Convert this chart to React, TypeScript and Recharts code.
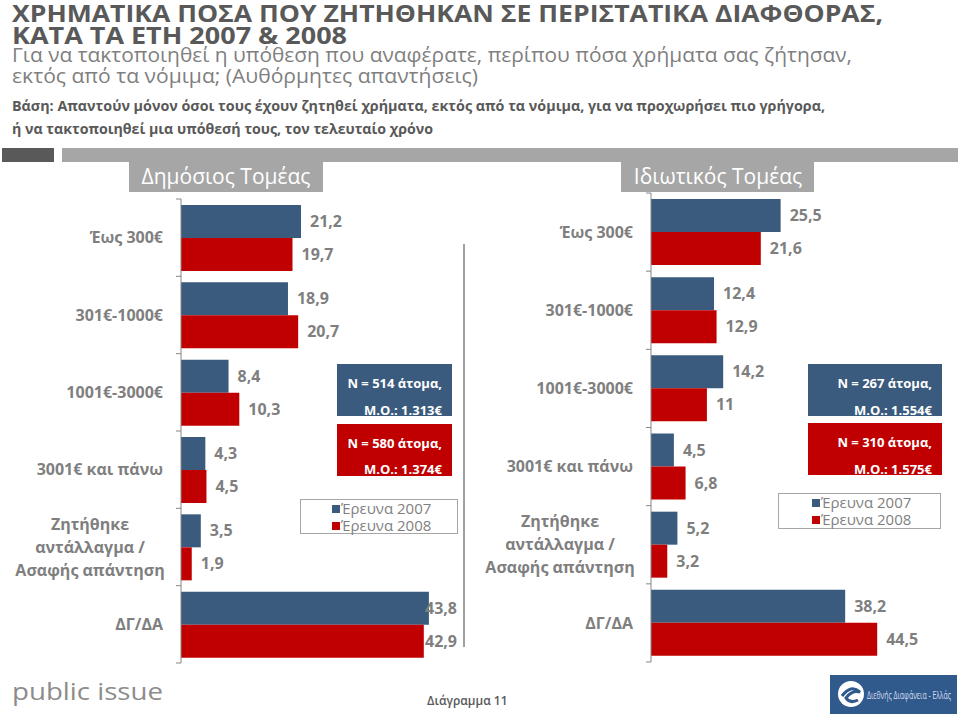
import { BarChart, Bar, XAxis, YAxis, LabelList, Legend } from "recharts"

const categories = [
  "Έως 300€",
  "301€-1000€",
  "1001€-3000€",
  "3001€ και πάνω",
  "Ζητήθηκε\nαντάλλαγμα /\nΑσαφής απάντηση",
  "ΔΓ/ΔΑ",
]
const public2007 = [21.2, 18.9, 8.4, 4.3, 3.5, 43.8]
const public2008 = [19.7, 20.7, 10.3, 4.5, 1.9, 42.9]
const private2007 = [25.5, 12.4, 14.2, 4.5, 5.2, 38.2]
const private2008 = [21.6, 12.9, 11, 6.8, 3.2, 44.5]
const seriesNames = ["Έρευνα 2007", "Έρευνα 2008"]

const BLUE = "#3a5b7e"
const RED = "#c00000"
const GRAY = "#7f7f7f"
const FONT = "'Open Sans', 'Noto Sans', sans-serif"

const fmt = (v: number) => String(v).replace(".", ",")

function CategoryTick(props: any) {
  const { x, y, payload, index } = props
  const half = payload?.offset || 38.6
  const lines = String(payload.value).split("\n")
  return (
    <g>
      <line x1={x - 5} x2={x} y1={y - half} y2={y - half} stroke="#868686" />
      {index === categories.length - 1 && (
        <line x1={x - 5} x2={x} y1={y + half} y2={y + half} stroke="#868686" />
      )}
      {lines.length === 1 ? (
        <text x={x - 18} y={y} dy="0.35em" textAnchor="end" fill={GRAY} fontSize={16} fontWeight={700} fontFamily={FONT}>
          {lines[0]}
        </text>
      ) : (
        <text textAnchor="middle" fill={GRAY} fontSize={16} fontWeight={700} fontFamily={FONT}>
          {lines.map((l, i) => (
            <tspan key={i} x={x - 91} y={y + (i - 1) * 23} dy="0.35em">
              {l}
            </tspan>
          ))}
        </text>
      )}
    </g>
  )
}

const makeValueLabel = (maxX: number) => (props: any) => {
  const { x, y, width, height, value } = props
  const lx = Math.min(x + width + 9, maxX)
  return (
    <text x={lx} y={y + height / 2} dy="0.35em" fill={GRAY} fontSize={16} fontWeight={700} fontFamily={FONT}>
      {fmt(value)}
    </text>
  )
}

function makeLegend(padLeft: number, padTop: number, rowH: number) {
  return (props: any) => {
    const items = props.payload || []
    return (
      <div
        style={{
          width: "100%",
          height: "100%",
          boxSizing: "border-box",
          border: "1px solid #a6a6a6",
          background: "#fff",
          paddingLeft: padLeft,
          paddingTop: padTop,
          fontFamily: FONT,
        }}
      >
        {items.map((it: any) => (
          <div key={it.value} style={{ display: "flex", alignItems: "center", height: rowH, fontSize: 15, color: GRAY, lineHeight: rowH + "px" }}>
            <span style={{ display: "inline-block", width: 8, height: 8, background: it.color, marginRight: 1 }} />
            {it.value}
          </div>
        ))}
      </div>
    )
  }
}

interface SectorProps {
  s2007: number[]
  s2008: number[]
  left: number
  width: number
  top: number
  bottom: number
  axisWidth: number
  right: number
  xMax: number
  labelMaxX: number
  legendPos: { left: number; top: number; width: number; height: number }
  legendPad: [number, number, number]
}

function SectorChart(p: SectorProps) {
  const data = categories.map((c, i) => ({ name: c, y2007: p.s2007[i], y2008: p.s2008[i] }))
  return (
    <div style={{ position: "absolute", left: p.left, top: 0 }}>
      <BarChart
        width={p.width}
        height={716}
        data={data}
        layout="vertical"
        margin={{ top: p.top, bottom: p.bottom, left: 0, right: p.right }}
        barCategoryGap={6}
        barGap={0}
      >
        <XAxis type="number" domain={[0, p.xMax]} hide />
        <YAxis
          type="category"
          dataKey="name"
          width={p.axisWidth}
          axisLine={{ stroke: "#868686" }}
          tickLine={false}
          tickSize={0}
          tickMargin={0}
          interval={0}
          tick={<CategoryTick />}
        />
        <Legend
          layout="horizontal"
          verticalAlign="middle"
          align="center"
          wrapperStyle={{ ...p.legendPos, position: "absolute" }}
          content={makeLegend(p.legendPad[0], p.legendPad[1], p.legendPad[2])}
        />
        <Bar dataKey="y2007" name={seriesNames[0]} fill={BLUE} isAnimationActive={false}>
          <LabelList dataKey="y2007" content={makeValueLabel(p.labelMaxX)} />
        </Bar>
        <Bar dataKey="y2008" name={seriesNames[1]} fill={RED} isAnimationActive={false}>
          <LabelList dataKey="y2008" content={makeValueLabel(p.labelMaxX)} />
        </Bar>
      </BarChart>
    </div>
  )
}

function NBox(props: { x: number; y: number; w: number; fill: string; l1: string; l2: string; right: number; b1: number; b2: number }) {
  return (
    <g>
      <rect x={props.x} y={props.y} width={props.w} height={52} fill={props.fill} />
      <text x={props.right} y={props.b1} textAnchor="end" fill="#fff" fontSize={13} fontWeight={700}>
        {props.l1}
      </text>
      <text x={props.right} y={props.b2} textAnchor="end" fill="#fff" fontSize={13} fontWeight={700}>
        {props.l2}
      </text>
    </g>
  )
}

export default function App() {
  return (
    <div style={{ position: "absolute", left: 0, top: 0, width: 960, height: 716, background: "#fff", overflow: "hidden", fontFamily: FONT }}>
      <SectorChart
        s2007={public2007}
        s2008={public2008}
        left={0}
        width={470}
        top={199}
        bottom={53}
        axisWidth={181}
        right={6}
        xMax={50}
        labelMaxX={425}
        legendPos={{ left: 300, top: 499, width: 158, height: 35 }}
        legendPad={[31, 0, 17]}
      />
      <SectorChart
        s2007={private2007}
        s2008={private2008}
        left={480}
        width={480}
        top={193}
        bottom={54}
        axisWidth={171}
        right={4}
        xMax={60}
        labelMaxX={2000}
        legendPos={{ left: 298, top: 493, width: 163, height: 36 }}
        legendPad={[33, 0, 17]}
      />
      <svg width={960} height={716} style={{ position: "absolute", left: 0, top: 0, pointerEvents: "none" }} fontFamily={FONT}>
        <text x={12} y={22} fill="#595959" fontSize={23} fontWeight={700} textLength={871} lengthAdjust="spacingAndGlyphs">
          ΧΡΗΜΑΤΙΚΑ ΠΟΣΑ ΠΟΥ ΖΗΤΗΘΗΚΑΝ ΣΕ ΠΕΡΙΣΤΑΤΙΚΑ ΔΙΑΦΘΟΡΑΣ,
        </text>
        <text x={12} y={44} fill="#595959" fontSize={23} fontWeight={700} textLength={335} lengthAdjust="spacingAndGlyphs">
          ΚΑΤΑ ΤΑ ΕΤΗ 2007 &amp; 2008
        </text>
        <text x={12} y={62} fill={GRAY} fontSize={20} textLength={840} lengthAdjust="spacingAndGlyphs">
          Για να τακτοποιηθεί η υπόθεση που αναφέρατε, περίπου πόσα χρήματα σας ζήτησαν,
        </text>
        <text x={12} y={83} fill={GRAY} fontSize={20} textLength={466} lengthAdjust="spacingAndGlyphs">
          εκτός από τα νόμιμα; (Αυθόρμητες απαντήσεις)
        </text>
        <text x={12} y={111} fill="#595959" fontSize={14} fontWeight={700} textLength={813} lengthAdjust="spacingAndGlyphs">
          Βάση: Απαντούν μόνον όσοι τους έχουν ζητηθεί χρήματα, εκτός από τα νόμιμα, για να προχωρήσει πιο γρήγορα,
        </text>
        <text x={12} y={134} fill="#595959" fontSize={14} fontWeight={700} textLength={421} lengthAdjust="spacingAndGlyphs">
          ή να τακτοποιηθεί μια υπόθεσή τους, τον τελευταίο χρόνο
        </text>

        <rect x={2} y={148} width={52} height={14} fill="#595959" />
        <rect x={62} y={148} width={896} height={14} fill="#a6a6a6" />
        <rect x={129} y={161} width={194} height={31} fill="#a6a6a6" />
        <rect x={621} y={161} width={193} height={31} fill="#a6a6a6" />
        <text x={226} y={177} dy="0.35em" textAnchor="middle" fill="#fff" fontSize={21}>
          Δημόσιος Τομέας
        </text>
        <text x={718} y={177} dy="0.35em" textAnchor="middle" fill="#fff" fontSize={21}>
          Ιδιωτικός Τομέας
        </text>

        <line x1={464} x2={464} y1={244} y2={647} stroke="#a0a0a0" strokeWidth={2} />

        <NBox x={337} y={364} w={115} fill={BLUE} right={442} b1={388} b2={415} l1="N = 514 άτομα," l2="Μ.Ο.: 1.313€" />
        <NBox x={337} y={424} w={115} fill={RED} right={442} b1={448} b2={474} l1="N = 580 άτομα," l2="Μ.Ο.: 1.374€" />
        <NBox x={808} y={364} w={134} fill={BLUE} right={932} b1={388} b2={415} l1="N = 267 άτομα," l2="Μ.Ο.: 1.554€" />
        <NBox x={808} y={423} w={134} fill={RED} right={932} b1={447} b2={474} l1="N = 310 άτομα," l2="Μ.Ο.: 1.575€" />

        <text x={12} y={700} fill="#8c8c8c" fontSize={24} textLength={151} lengthAdjust="spacingAndGlyphs">
          public issue
        </text>
        <text x={427} y={705} fill="#595959" fontSize={12} fontWeight={600}>
          Διάγραμμα 11
        </text>

        <rect x={830} y={675} width={127} height={39} fill="#30598c" />
        <circle cx={851} cy={694} r={13} fill="#fff" />
        <path d="M842 696 Q851 684 860 692 Q852 690 846 698 Q850 704 858 700" fill="none" stroke="#30598c" strokeWidth={3} />
        <text x={867} y={699} fill="#d6def0" fontSize={11} textLength={84} lengthAdjust="spacingAndGlyphs">
          Διεθνής Διαφάνεια - Ελλάς
        </text>
      </svg>
    </div>
  )
}
